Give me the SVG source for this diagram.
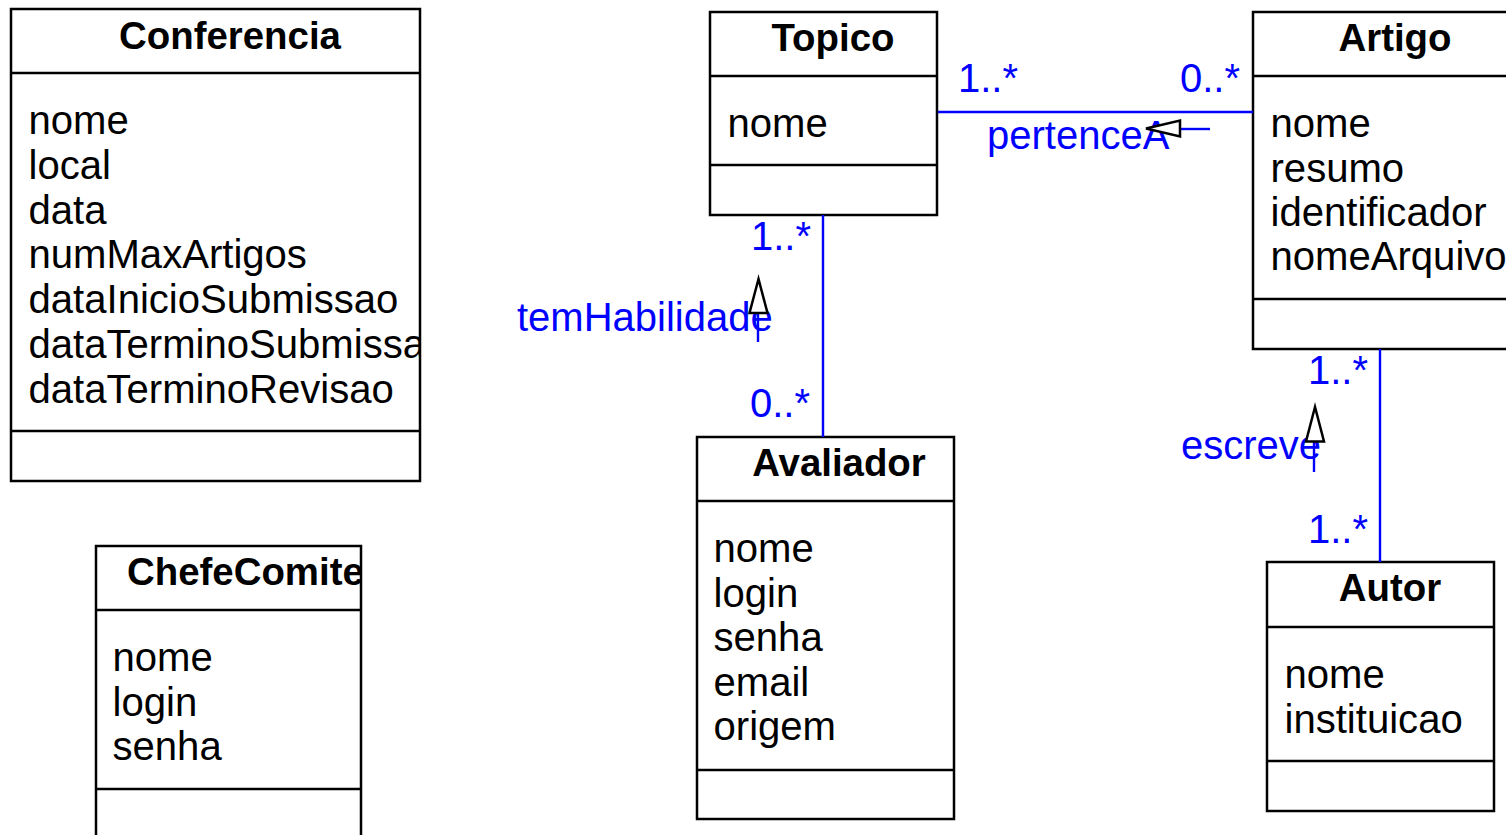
<svg xmlns="http://www.w3.org/2000/svg" width="1506" height="835" viewBox="0 0 1506 835">
<style>
.box{fill:#fff;stroke:#000;stroke-width:2.5}
.sep{stroke:#000;stroke-width:2.5}
.title{font-family:"Liberation Sans",Arial,sans-serif;font-weight:bold;font-size:38.4px;fill:#000;text-anchor:middle}
.attr{font-family:"Liberation Sans",Arial,sans-serif;font-size:40.1px;fill:#000}
.lbl{font-family:"Liberation Sans",Arial,sans-serif;font-size:40px;fill:#0000ff}
.conn{stroke:#0000ff;stroke-width:2.4;fill:none}
.tri{fill:#fff;stroke:#000;stroke-width:2.5}
</style>
<defs>
<clipPath id="cConf"><rect x="11" y="9" width="409" height="472"/></clipPath>
<clipPath id="cChefe"><rect x="96" y="546" width="265" height="300"/></clipPath>
</defs>
<rect width="1506" height="835" fill="#fff"/>

<g id="Conferencia">
<rect class="box" x="11" y="9" width="409" height="472"/>
<line class="sep" x1="11" y1="73" x2="420" y2="73"/>
<line class="sep" x1="11" y1="431" x2="420" y2="431"/>
<g clip-path="url(#cConf)">
<text class="title" x="230" y="49">Conferencia</text>
<text class="attr" x="28.5" y="134">nome</text>
<text class="attr" x="28.5" y="179">local</text>
<text class="attr" x="28.5" y="224">data</text>
<text class="attr" x="28.5" y="268">numMaxArtigos</text>
<text class="attr" x="28.5" y="313">dataInicioSubmissao</text>
<text class="attr" x="28.5" y="358">dataTerminoSubmissao</text>
<text class="attr" x="28.5" y="403">dataTerminoRevisao</text>
</g>
</g>

<g id="ChefeComite">
<rect class="box" x="96" y="546" width="265" height="300"/>
<line class="sep" x1="96" y1="610" x2="361" y2="610"/>
<line class="sep" x1="96" y1="789" x2="361" y2="789"/>
<g clip-path="url(#cChefe)">
<text class="title" x="127" y="585" style="text-anchor:start">ChefeComite</text>
<text class="attr" x="112.5" y="671">nome</text>
<text class="attr" x="112.5" y="716">login</text>
<text class="attr" x="112.5" y="760">senha</text>
</g>
</g>

<g id="Topico">
<rect class="box" x="710" y="12" width="227" height="203"/>
<line class="sep" x1="710" y1="76" x2="937" y2="76"/>
<line class="sep" x1="710" y1="165" x2="937" y2="165"/>
<text class="title" x="833" y="51">Topico</text>
<text class="attr" x="727.5" y="137">nome</text>
</g>

<g id="Artigo">
<rect class="box" x="1253" y="12" width="270" height="337"/>
<line class="sep" x1="1253" y1="76" x2="1523" y2="76"/>
<line class="sep" x1="1253" y1="299" x2="1523" y2="299"/>
<text class="title" x="1395" y="51">Artigo</text>
<text class="attr" x="1270.5" y="137">nome</text>
<text class="attr" x="1270.5" y="182">resumo</text>
<text class="attr" x="1270.5" y="226">identificador</text>
<text class="attr" x="1270.5" y="270">nomeArquivo</text>
</g>

<g id="Avaliador">
<rect class="box" x="697" y="437" width="257" height="382"/>
<line class="sep" x1="697" y1="501" x2="954" y2="501"/>
<line class="sep" x1="697" y1="770" x2="954" y2="770"/>
<text class="title" x="839" y="476">Avaliador</text>
<text class="attr" x="713.5" y="562">nome</text>
<text class="attr" x="713.5" y="607">login</text>
<text class="attr" x="713.5" y="651">senha</text>
<text class="attr" x="713.5" y="696">email</text>
<text class="attr" x="713.5" y="740">origem</text>
</g>

<g id="Autor">
<rect class="box" x="1267" y="562" width="227" height="249"/>
<line class="sep" x1="1267" y1="627" x2="1494" y2="627"/>
<line class="sep" x1="1267" y1="761" x2="1494" y2="761"/>
<text class="title" x="1390" y="601">Autor</text>
<text class="attr" x="1284.5" y="688">nome</text>
<text class="attr" x="1284.5" y="733">instituicao</text>
</g>

<g id="connectors">
<line class="conn" x1="938" y1="112" x2="1253" y2="112"/>
<text class="lbl" x="958" y="92">1..*</text>
<text class="lbl" x="1180" y="92">0..*</text>
<text class="lbl" x="987" y="149">pertenceA</text>
<line class="conn" x1="1180" y1="129" x2="1210" y2="129"/>
<polygon class="tri" points="1146,128.5 1180,120.5 1180,136.5"/>

<line class="conn" x1="823" y1="215" x2="823" y2="437"/>
<text class="lbl" x="751" y="250">1..*</text>
<text class="lbl" x="750" y="417">0..*</text>
<text class="lbl" x="517" y="331">temHabilidade</text>
<line class="conn" x1="758" y1="313" x2="758" y2="342"/>
<polygon class="tri" points="758.5,279 749.5,313 767.5,313"/>

<line class="conn" x1="1380" y1="349" x2="1380" y2="562"/>
<text class="lbl" x="1308" y="384">1..*</text>
<text class="lbl" x="1308" y="543">1..*</text>
<text class="lbl" x="1181" y="459">escreve</text>
<line class="conn" x1="1314" y1="441" x2="1314" y2="472"/>
<polygon class="tri" points="1315,407 1306,441.5 1324,441.5"/>
</g>
</svg>
